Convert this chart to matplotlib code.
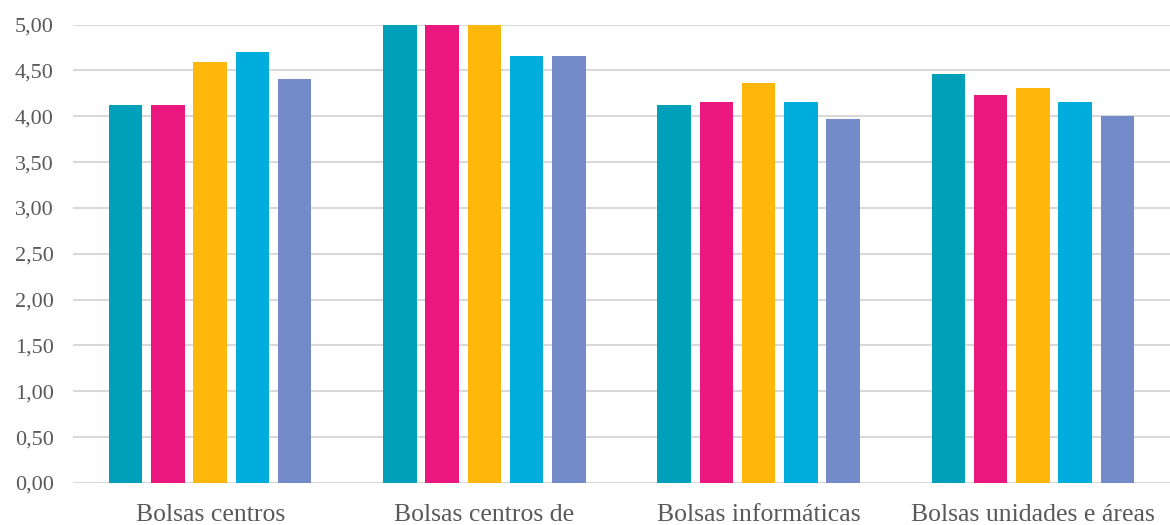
import numpy as np
import matplotlib
matplotlib.use("Agg")
import matplotlib.pyplot as plt
from matplotlib.ticker import FuncFormatter

categorias = ["Bolsas centros", "Bolsas centros de", "Bolsas informáticas", "Bolsas unidades e áreas"]
serie_1 = [4.12, 5.00, 4.12, 4.46]
serie_2 = [4.12, 5.00, 4.16, 4.23]
serie_3 = [4.59, 5.00, 4.36, 4.31]
serie_4 = [4.70, 4.66, 4.16, 4.15]
serie_5 = [4.41, 4.66, 3.97, 4.00]
series = [serie_1, serie_2, serie_3, serie_4, serie_5]
cores = ["#00A1B8", "#EA177E", "#FFB70B", "#00ADDD", "#738BC8"]

plt.rcParams['font.family'] = ['Liberation Serif', 'DejaVu Serif']

fig = plt.figure(figsize=(11.7, 5.25), dpi=100)
ax = fig.add_axes([0.0624, 0.08, 0.9376, 0.8733])

x = np.arange(len(categorias))
passo = 0.154
largura = 0.122
for i, (vals, cor) in enumerate(zip(series, cores)):
	ax.bar(x + (i - 2) * passo, vals, largura, color=cor, zorder=3)

ax.set_xlim(-0.5, len(categorias) - 0.5)
ax.set_ylim(0, 5)
ax.set_yticks(np.arange(0, 5.01, 0.5))
ax.yaxis.set_major_formatter(FuncFormatter(lambda v, p: f"{v:.2f}".replace(".", ",")))
ax.set_xticks(x)
ax.set_xticklabels(categorias)

ax.grid(axis="y", color="#D9D9D9", linewidth=1.5, zorder=0)
for s in ax.spines.values():
	s.set_visible(False)
ax.tick_params(axis="y", length=0, pad=14, labelsize=16, labelcolor="#595959")
ax.tick_params(axis="x", length=0, pad=15, labelsize=18.5, labelcolor="#595959")

fig.savefig("out.png", dpi=100)
